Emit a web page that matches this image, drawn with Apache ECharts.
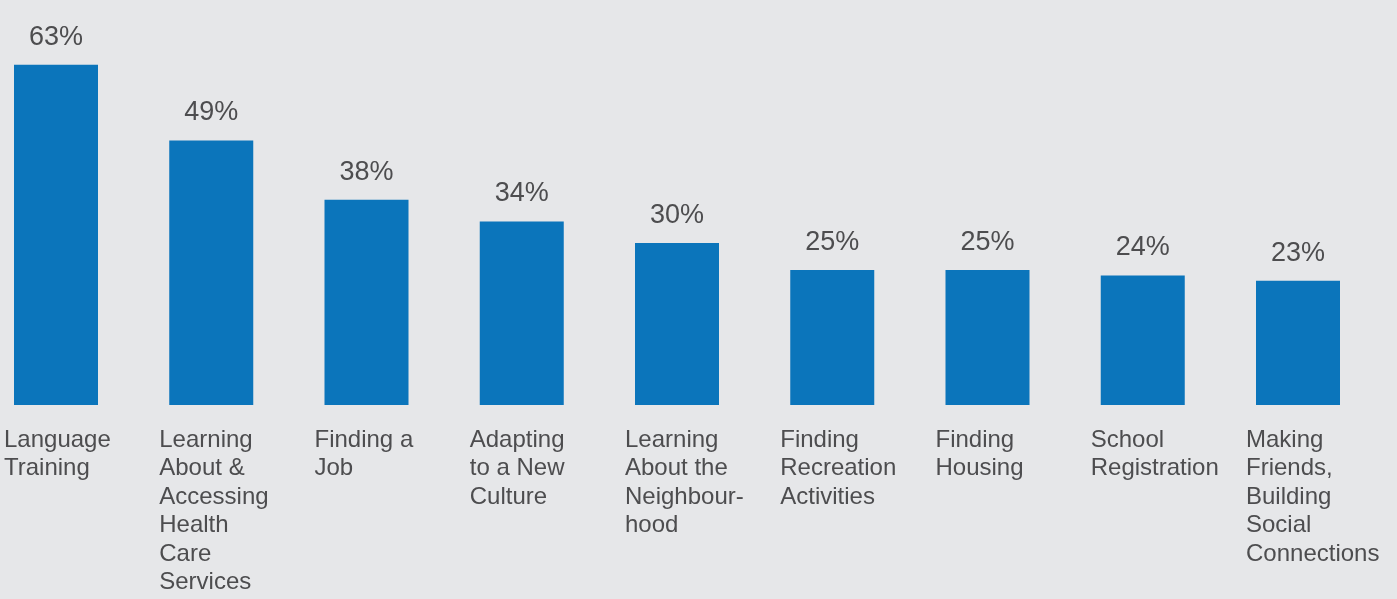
<!DOCTYPE html>
<html>
<head>
<meta charset="utf-8">
<script src="https://cdn.jsdelivr.net/npm/echarts@6/dist/echarts.min.js"></script>
<style>
  html, body { margin: 0; padding: 0; background: #e6e7e9; }
  #chart { width: 1397px; height: 599px; }
</style>
</head>
<body>
<div id="chart"></div>
<script>
const categories = [
  'Language\nTraining',
  'Learning\nAbout &\nAccessing\nHealth\nCare\nServices',
  'Finding a\nJob',
  'Adapting\nto a New\nCulture',
  'Learning\nAbout the\nNeighbour-\nhood',
  'Finding\nRecreation\nActivities',
  'Finding\nHousing',
  'School\nRegistration',
  'Making\nFriends,\nBuilding\nSocial\nConnections'
]
const percentages = [63, 49, 38, 34, 30, 25, 25, 24, 23]

const chart = echarts.init(document.getElementById('chart'))
chart.setOption({
  backgroundColor: '#e6e7e9',
  animation: false,
  grid: {
    left: 56,
    right: 99,
    top: 27,
    bottom: 194,
    containLabel: false
  },
  xAxis: {
    type: 'category',
    data: categories,
    boundaryGap: false,
    axisLine: { show: false },
    axisTick: { show: false },
    axisLabel: {
      interval: 0,
      margin: 21,
      align: 'center',
      verticalAlign: 'top',
      formatter: v => '{a|' + v + '}',
      rich: {
        a: {
          width: 104,
          align: 'left',
          fontFamily: 'Liberation Sans, Arial, sans-serif',
          fontSize: 24,
          lineHeight: 28.5,
          color: '#4d4d4f'
        }
      }
    }
  },
  yAxis: {
    type: 'value',
    min: 0,
    max: 70,
    show: false,
    splitLine: { show: false }
  },
  series: [{
    type: 'bar',
    data: percentages,
    barWidth: 84,
    itemStyle: { color: '#0b75bb' },
    label: {
      show: true,
      position: 'top',
      distance: 14,
      formatter: '{c}%',
      fontFamily: 'Liberation Sans, Arial, sans-serif',
      fontSize: 27,
      color: '#4d4d4f'
    }
  }]
})
</script>
</body>
</html>
